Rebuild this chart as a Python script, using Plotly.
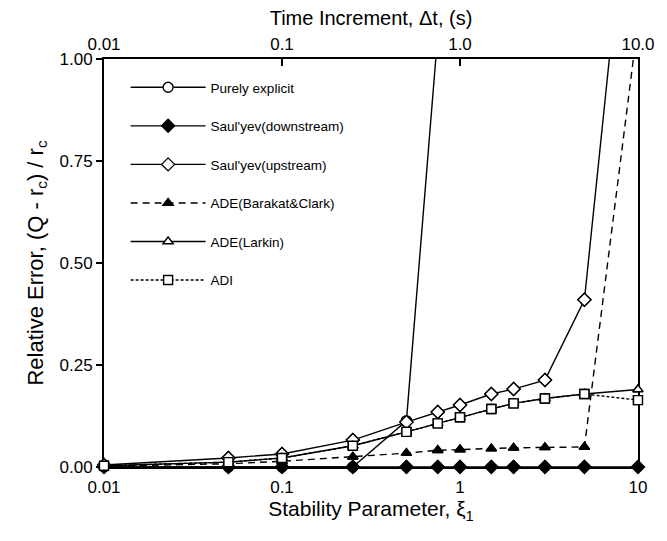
import plotly.graph_objects as go

# ---- data ----
xi = [0.01, 0.05, 0.1, 0.25, 0.5, 0.75, 1.0, 1.5, 2.0, 3.0, 5.0, 10.0]
xi_explicit = [0.01, 0.05, 0.1, 0.25, 0.5, 0.75]
purely_explicit = [0.0, 0.0, 0.0, 0.0, 0.113, 1.06]
saulyev_down = [0.0, 0.0, 0.0, 0.0, 0.0, 0.0, 0.0, 0.0, 0.0, 0.0, 0.0, 0.0]
saulyev_up = [0.005, 0.022, 0.032, 0.066, 0.11, 0.135, 0.152, 0.179, 0.191, 0.213, 0.41, 1.68]
ade_barakat = [0.002, 0.008, 0.014, 0.025, 0.034, 0.041, 0.043, 0.045, 0.047, 0.048, 0.049, 1.09]
ade_larkin = [0.003, 0.012, 0.022, 0.052, 0.086, 0.107, 0.122, 0.142, 0.156, 0.168, 0.179, 0.19]
adi = [0.003, 0.012, 0.022, 0.052, 0.086, 0.107, 0.122, 0.142, 0.156, 0.168, 0.179, 0.164]

bottom_ticks = [0.01, 0.1, 1, 10]
bottom_ticktext = ["0.01", "0.1", "1", "10"]
top_ticks = [0.01, 0.1, 1, 10]
top_ticktext = ["0.01", "0.1", "1.0", "10.0"]
y_ticks = [0.0, 0.25, 0.5, 0.75, 1.0]
y_ticktext = ["0.00", "0.25", "0.50", "0.75", "1.00"]

FONT = "Liberation Sans, Arial, Helvetica, sans-serif"

series = [
    ("Purely explicit", xi_explicit, purely_explicit, "circle", "white", "solid"),
    ("Saul'yev(downstream)", xi, saulyev_down, "diamond", "black", "solid"),
    ("Saul'yev(upstream)", xi, saulyev_up, "diamond", "white", "solid"),
    ("ADE(Barakat&Clark)", xi, ade_barakat, "triangle-up", "black", "7px,5px"),
    ("ADE(Larkin)", xi, ade_larkin, "triangle-up", "white", "solid"),
    ("ADI", xi, adi, "square", "white", "3px,2px"),
]
sizes = {"circle": 10, "diamond": 10, "triangle-up": 9, "square": 9}

fig = go.Figure()
for i, (name, xs, ys, sym, fill, dash) in enumerate(series):
    mk = dict(symbol=sym, size=sizes[sym], color=fill, line=dict(color="black", width=1.4))
    fig.add_trace(go.Scatter(
        x=xs, y=ys, name=name, mode="lines+markers",
        line=dict(color="black", width=1.4, dash=dash),
        marker=mk, cliponaxis=True, legendgroup=f"g{i}",
    ))
for i, (name, xs, ys, sym, fill, dash) in enumerate(series):
    inx = [a for a, b in zip(xs, ys) if b <= 1.0]
    iny = [b for b in ys if b <= 1.0]
    mk = dict(symbol=sym, size=sizes[sym], color=fill, line=dict(color="black", width=1.4))
    fig.add_trace(go.Scatter(
        x=inx, y=iny, mode="markers", marker=mk, cliponaxis=False,
        showlegend=False, hoverinfo="skip",
    ))

# dummy trace so the top axis is drawn
fig.add_trace(go.Scatter(x=top_ticks, y=[None] * len(top_ticks), xaxis="x2",
                         showlegend=False, hoverinfo="skip", mode="lines"))

fig.update_layout(
    width=667, height=541,
    margin=dict(l=104, r=19, t=59, b=74),
    paper_bgcolor="white", plot_bgcolor="white",
    font=dict(family=FONT, color="black", size=17),
    showlegend=True,
    legend=dict(
        x=(126 - 104) / 544, y=1 - (72 - 59) / 408, xanchor="left", yanchor="top",
        bgcolor="rgba(0,0,0,0)", borderwidth=0,
        font=dict(family=FONT, size=13.5, color="black"),
        itemwidth=75, tracegroupgap=18, traceorder="grouped",
    ),
    xaxis=dict(
        type="log", range=[-2, 1],
        tickvals=bottom_ticks, ticktext=bottom_ticktext,
        ticks="inside", ticklen=6, tickwidth=1.5, tickcolor="black",
        showline=True, linecolor="black", linewidth=2, mirror=True,
        showgrid=False, zeroline=False, layer="below traces",
        title=dict(text="Stability Parameter, ξ<sub>1</sub>", font=dict(size=21), standoff=5),
        tickfont=dict(size=17), ticklabelstandoff=4,
    ),
    xaxis2=dict(
        type="log", range=[-2, 1], overlaying="x", side="top", anchor="y",
        tickvals=top_ticks, ticktext=top_ticktext,
        ticks="inside", ticklen=7, tickwidth=1.5, tickcolor="black",
        showline=True, linecolor="black", linewidth=2,
        showgrid=False, zeroline=False, layer="below traces",
        title=dict(text="Time Increment, Δt, (s)", font=dict(size=20), standoff=4),
        tickfont=dict(size=17),
    ),
    yaxis=dict(
        range=[0, 1], tickvals=y_ticks, ticktext=y_ticktext,
        ticks="outside", ticklen=6, tickwidth=1.5, tickcolor="black",
        showline=True, linecolor="black", linewidth=2, mirror=True,
        showgrid=False, zeroline=False, layer="below traces",
        title=dict(text="Relative Error, (Q - r<sub>c</sub>) / r<sub>c</sub>", font=dict(size=22), standoff=10),
        tickfont=dict(size=17),
    ),
)

fig.write_html("out.html")
